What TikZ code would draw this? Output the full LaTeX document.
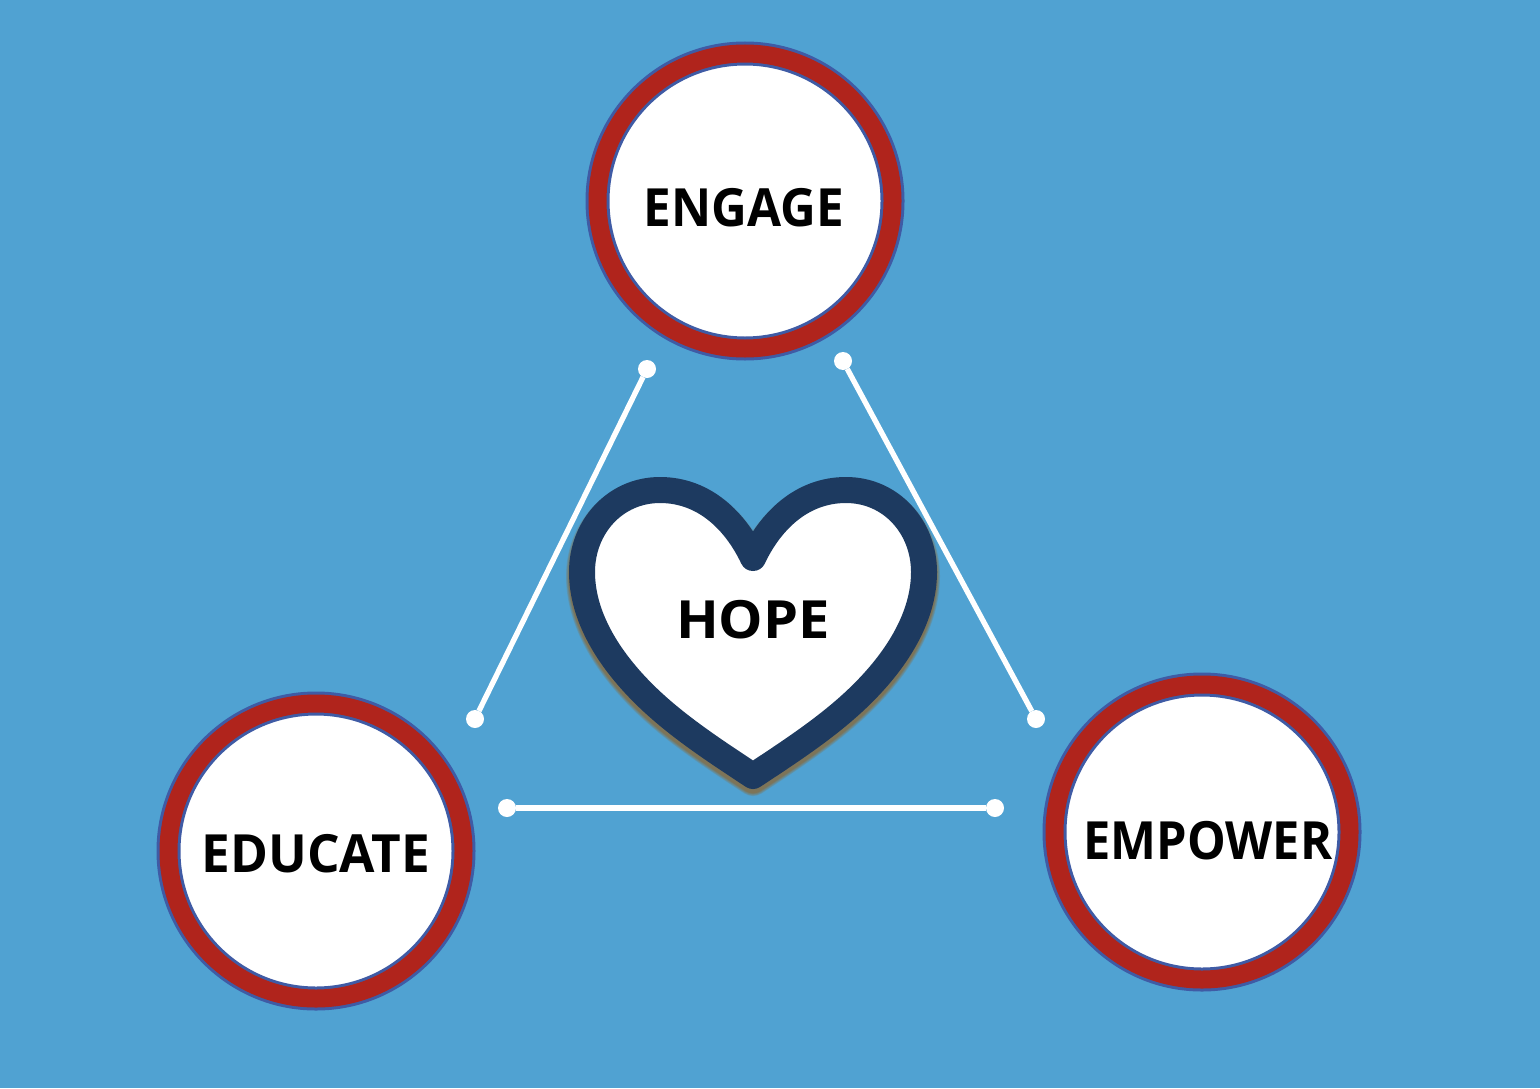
\documentclass[tikz,border=0pt]{standalone}
\usepackage{fontspec}
\setmainfont{Open Sans}
\newfontfamily\fengage[FakeStretch=0.938]{Open Sans}
\newfontfamily\feducate[FakeStretch=0.974]{Open Sans}
\newfontfamily\fempower[FakeStretch=0.925]{Open Sans}
\newfontfamily\fhope[FakeStretch=1.063]{Open Sans}
\definecolor{bgblue}{HTML}{50A2D2}
\definecolor{rimblue}{HTML}{3F5BA5}
\definecolor{ringred}{HTML}{B0241C}
\definecolor{heartblue}{HTML}{1D3A60}
\definecolor{shadowbrown}{HTML}{8A6A3A}
\tikzset{
  x=0.75pt,y=-0.75pt,
  ring/.style={circle,draw=rimblue,line width=2.25pt,double=ringred,double distance=13.5pt,fill=white,minimum size=221.25pt,inner sep=0pt,outer sep=0pt},
  lbl/.style={text=black,inner sep=0pt},
  dot/.style={circle,fill=white,minimum size=13.5pt,inner sep=0pt,outer sep=0pt},
  link/.style={draw=white,line width=4pt},
  heartline/.style={line width=19.5pt,line join=round},
}
\newcommand{\lblsize}{\bfseries\fontsize{39.5pt}{40pt}\selectfont}
\newcommand{\heartpath}{(753,558) .. controls (736,522) and (705,490) .. (660,490) .. controls (615,490) and (582,527) .. (582,572) .. controls (582,616) and (608,658) .. (643,693) .. controls (674,724) and (712,749) .. (753,776) .. controls (794,749) and (832,724) .. (863,693) .. controls (898,658) and (924,616) .. (924,572) .. controls (924,527) and (891,490) .. (846,490) .. controls (801,490) and (770,522) .. (753,558) -- cycle}
\begin{document}
\begin{tikzpicture}
\path[use as bounding box,fill=bgblue] (0,0) rectangle (1540,1088);
% connectors
\node[dot] (a1) at (647,369) {};
\node[dot] (a2) at (475,719) {};
\node[dot] (b1) at (843,361) {};
\node[dot] (b2) at (1036,719) {};
\node[dot] (c1) at (507,808) {};
\node[dot] (c2) at (995,808) {};
\draw[link] (a1) -- (a2);
\draw[link] (b1) -- (b2);
\draw[link] (c1) -- (c2);
% heart shadow
\begin{scope}[shift={(0,4)}]
\foreach \w in {24,23,22,21,20.5,20,19.5}{
  \draw[shadowbrown,opacity=0.2,line width=\w pt,line join=round] \heartpath;
}
\end{scope}
% heart
\draw[heartline,draw=heartblue,fill=white] \heartpath;
% circles
\node[ring] (engage) at (745,201) {};
\node[ring] (educate) at (316,851) {};
\node[ring] (empower) at (1202,832) {};
% labels
\node[lbl] (tengage) at (744,208) {\fengage\lblsize ENGAGE};
\node[lbl] (teducate) at (316,854) {\feducate\lblsize EDUCATE};
\node[lbl] (tempower) at (1208,841) {\fempower\lblsize EMPOWER};
\node[lbl] (thope) at (753,620) {\fhope\lblsize HOPE};
\end{tikzpicture}
\end{document}
